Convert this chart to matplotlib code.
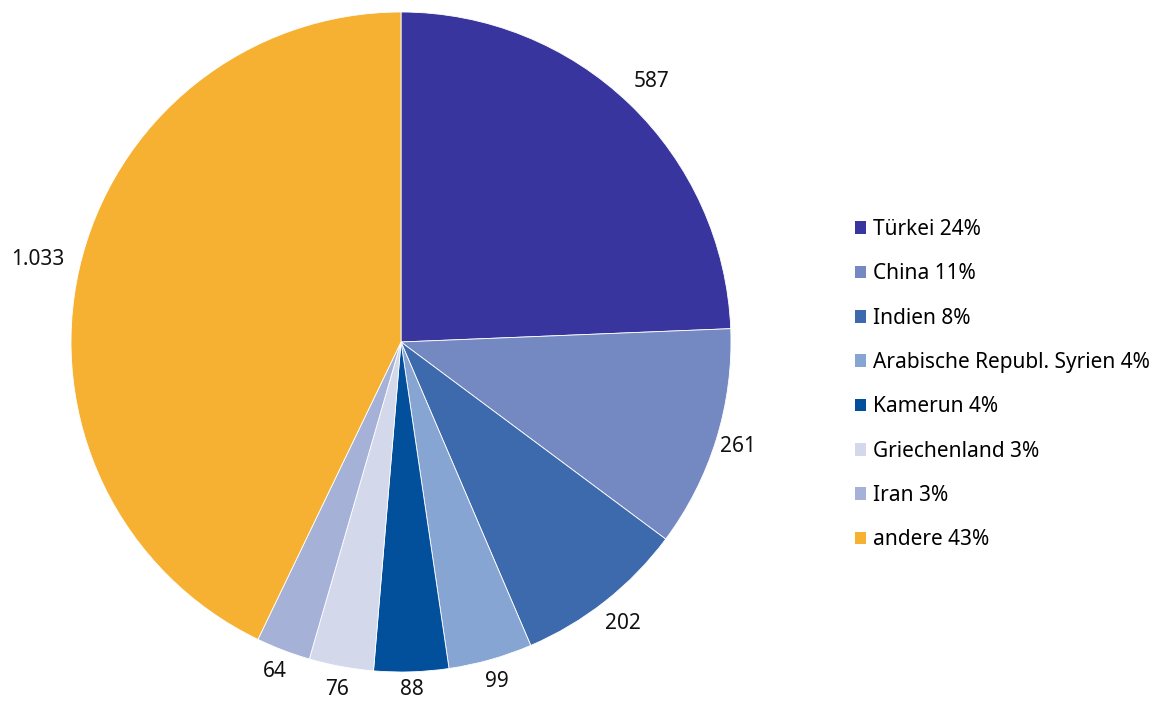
import matplotlib
matplotlib.use('Agg')
import matplotlib.pyplot as plt
from matplotlib.patches import Patch
import numpy as np

# Daten
laender = ["Türkei", "China", "Indien", "Arabische Republ. Syrien", "Kamerun",
           "Griechenland", "Iran", "andere"]
werte = [587, 261, 202, 99, 88, 76, 64, 1033]
wert_labels = ["587", "261", "202", "99", "88", "76", "64", "1.033"]
prozent = [24, 11, 8, 4, 4, 3, 3, 43]
farben = ["#38369E", "#7489C2", "#3D69AD", "#86A5D3", "#024F9C",
          "#D3D8EB", "#A5B1D7", "#F6B132"]

# Abstand der Beschriftung je Segment (relativ zum Radius)
label_abstand = [1.095, 1.07, 1.085, 1.07, 1.055, 1.07, 1.07, 1.13]

plt.rcParams['font.family'] = ['Noto Sans', 'DejaVu Sans']

fig = plt.figure(figsize=(11.63, 7.02), dpi=100)
ax = fig.add_axes([0, 0, 1, 1])

mitte = (401, 360)
radius = 330
wedges, texts = ax.pie(werte, labels=wert_labels, colors=farben, startangle=90,
                       counterclock=False, center=mitte, radius=radius,
                       labeldistance=1.08, frame=True,
                       wedgeprops=dict(edgecolor='white', linewidth=0.6),
                       textprops=dict(fontsize=15, color='#111111'))
for w, t, d in zip(wedges, texts, label_abstand):
    ang = np.deg2rad((w.theta1 + w.theta2) / 2)
    t.set_position((mitte[0] + d * radius * np.cos(ang),
                    mitte[1] + d * radius * np.sin(ang)))
    t.set_ha('center')
    t.set_va('center')

ax.set_xlim(0, 1163)
ax.set_ylim(0, 702)
ax.set_aspect('equal')
ax.axis('off')

handles = [Patch(facecolor=c, edgecolor='none') for c in farben]
labels = [f"{l} {p}%" for l, p in zip(laender, prozent)]
fig.legend(handles, labels, loc='upper left', bbox_to_anchor=(0.728, 0.7),
           frameon=False, fontsize=15, handlelength=0.55, handleheight=0.55,
           handletextpad=0.3, labelspacing=1.12, borderaxespad=0)

fig.savefig("out.png", dpi=100)
